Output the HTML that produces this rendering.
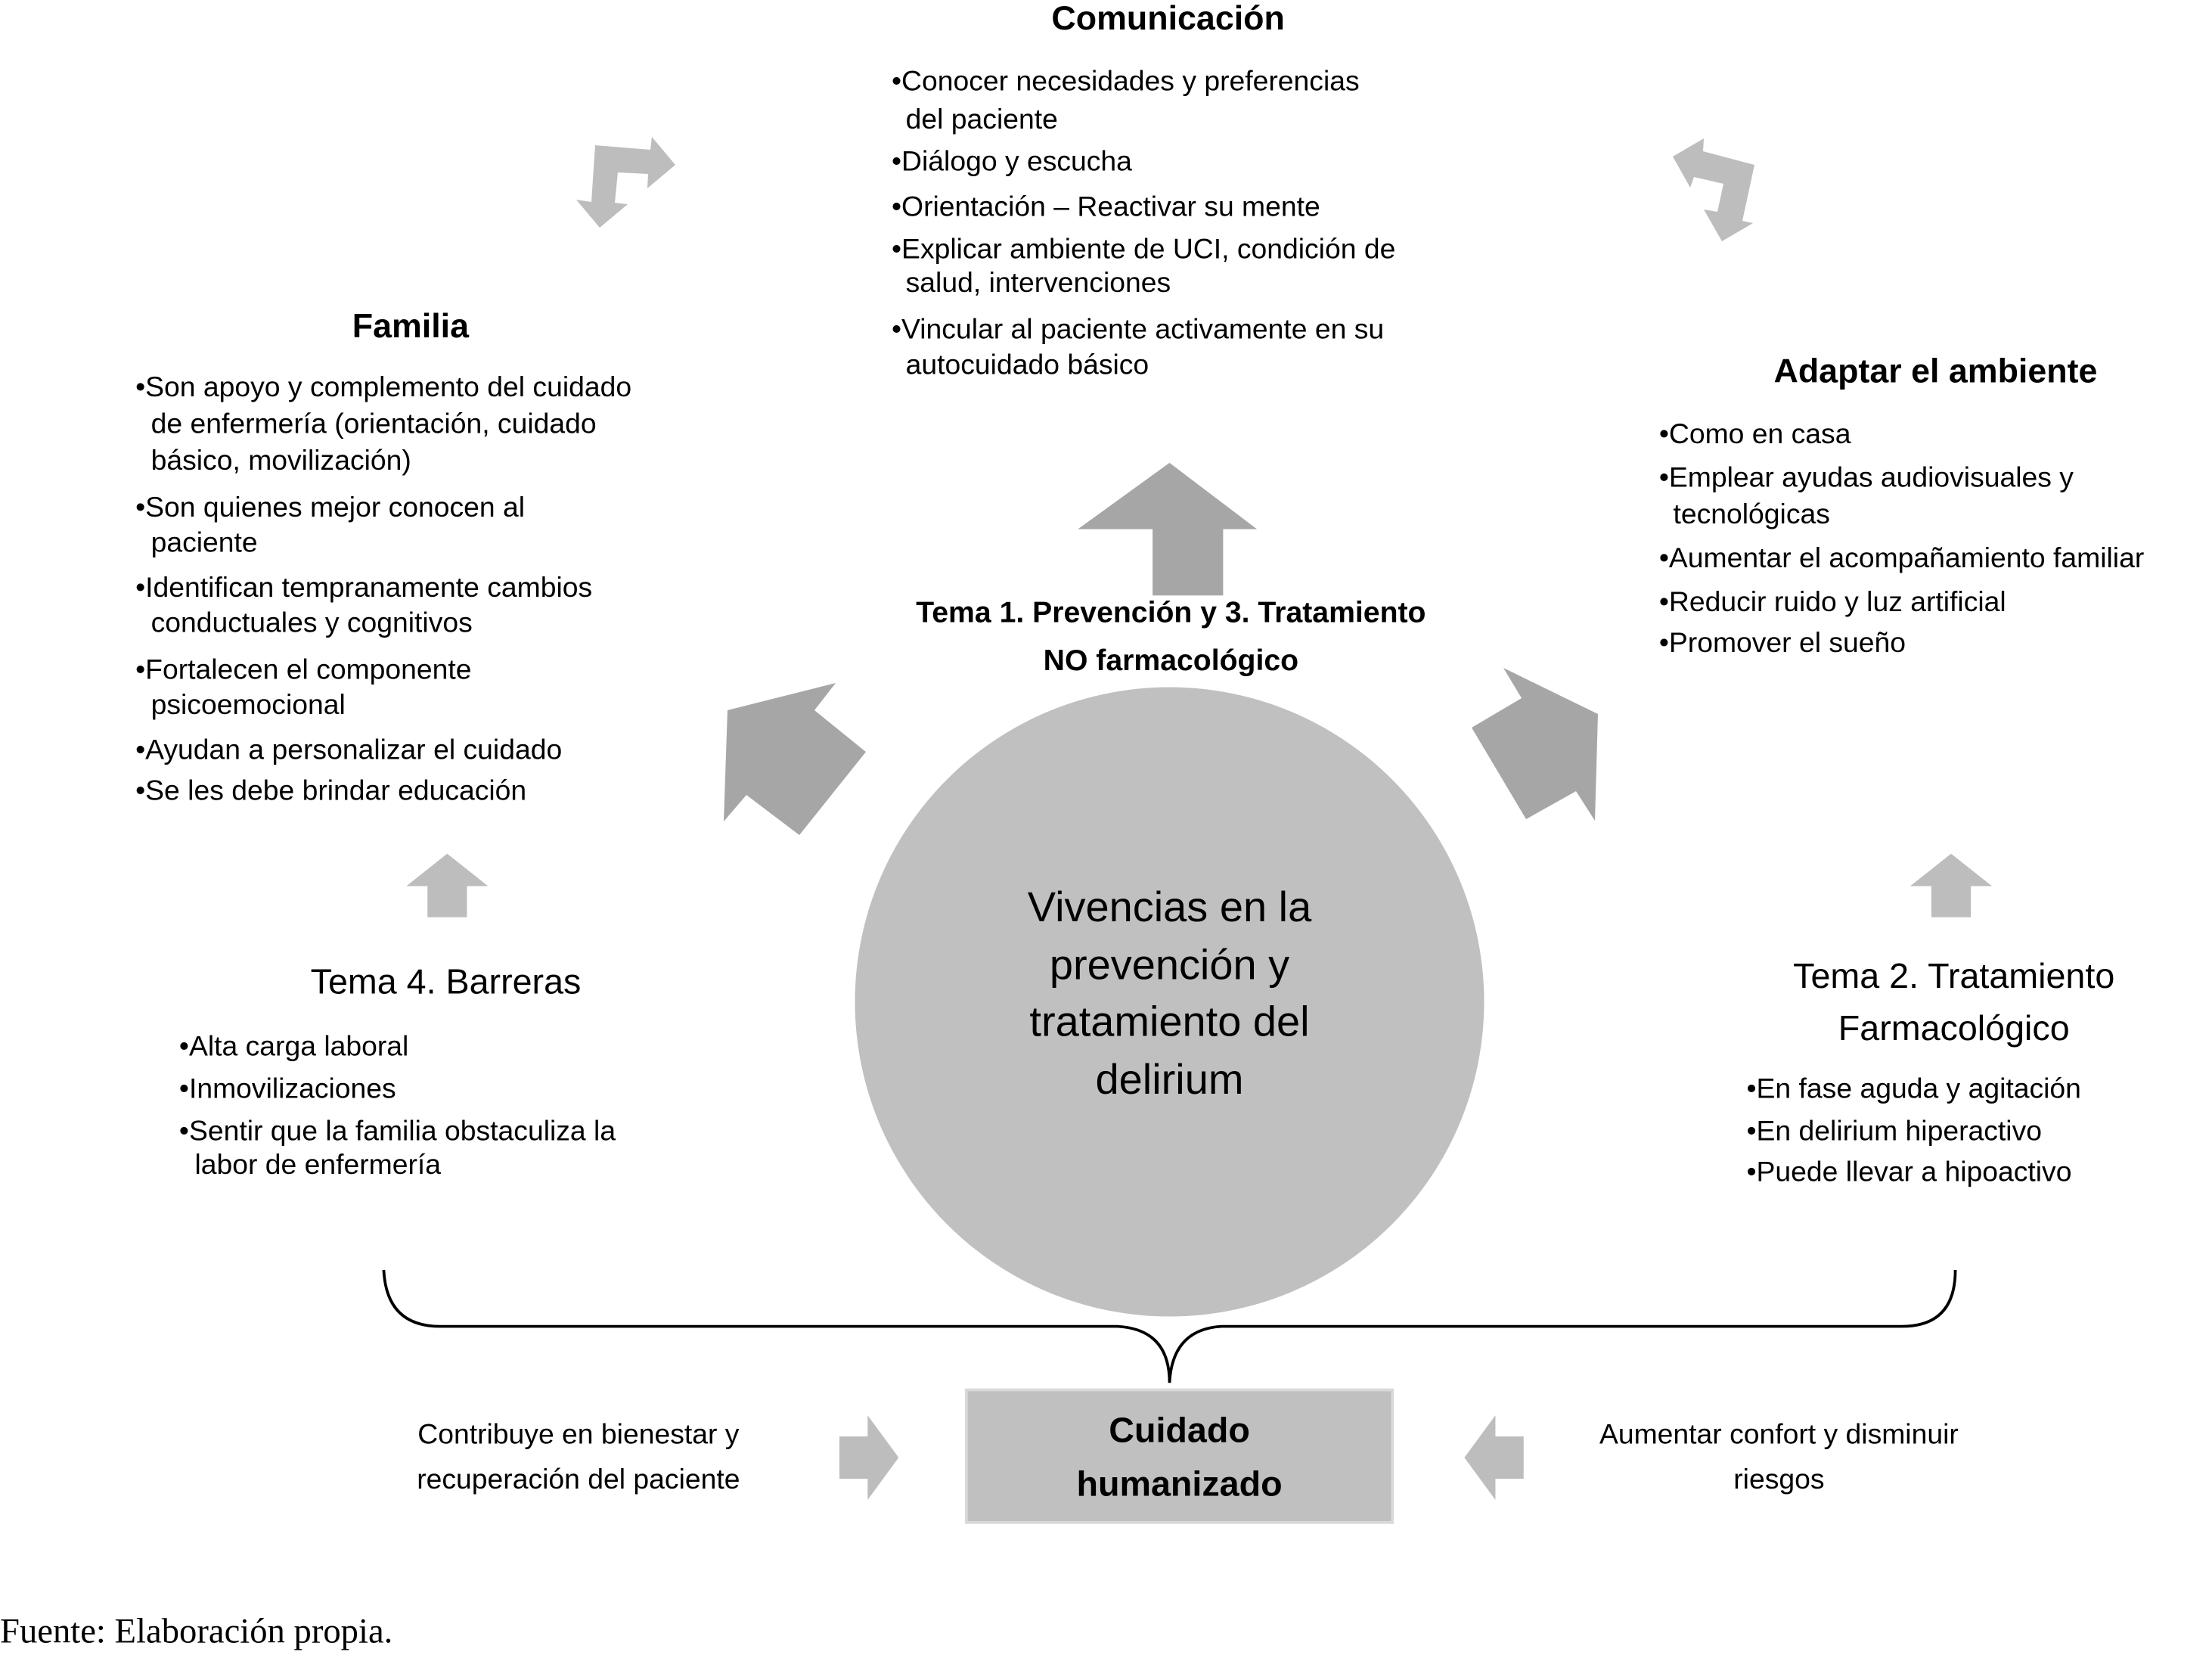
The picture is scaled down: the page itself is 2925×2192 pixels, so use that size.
<!DOCTYPE html>
<html><head><meta charset="utf-8"><style>
html,body{margin:0;padding:0;background:#fff;}
#wrap{position:relative;width:2925px;height:2192px;overflow:hidden;}
#s{position:absolute;left:0;top:0;width:1568px;height:1175px;transform:scale(1.8655);transform-origin:0 0;font-family:"Liberation Sans",sans-serif;color:#000;}
.l{position:absolute;white-space:nowrap;font-size:20px;line-height:30px;}
.c{transform:translateX(-50%);text-align:center;}
.b{font-weight:bold;font-size:24px;}
</style></head><body><div id="wrap">
<svg width="2925" height="2192" viewBox="0 0 2925 2192" style="position:absolute;left:0;top:0">
<polygon fill="#bdbdbd" points="787,192 860,198 862,181 893,218 856,249 857,230 817,228 813,268 830,270 793,301 762,264 782,267"/>
<polygon fill="#bdbdbd" points="2212,207 2253,183 2252,200 2320,218 2304,292 2318,295 2277,319 2253,277 2271,280 2279,243 2240,234 2235,248"/>
<polygon fill="#a6a6a6" points="962,939 1105,903 1077,939 1145,994 1057,1104 987,1051 957,1086"/>
<polygon fill="#a6a6a6" points="1988,883 2113,944 2109,1085 2084,1046 2018,1083 1946,962 2012,923"/>
<g transform="scale(1.8655)">
<circle cx="829" cy="710" r="223" fill="#c0c0c0"/>
<polygon fill="#a6a6a6" points="829,328 891,375 867,375 867,422 817,422 817,375 764,375"/>
<polygon fill="#bdbdbd" points="317,605 346,628 331,628 331,650 303,650 303,628 288,628"/>
<polygon fill="#bdbdbd" points="1383,605 1412,628 1397,628 1397,650 1369,650 1369,628 1354,628"/>
<polygon fill="#bdbdbd" points="595,1018 615,1018 615,1003 637,1033 615,1063 615,1048 595,1048"/>
<polygon fill="#bdbdbd" points="1080,1018 1060,1018 1060,1003 1038,1033 1060,1063 1060,1048 1080,1048"/>
<path d="M272,900 Q274,940 312,940 L792,940 Q829,942 829,980 Q831,942 866,940 L1348,940 Q1386,940 1386,900" fill="none" stroke="#000" stroke-width="2"/>
<rect x="685" y="985" width="302" height="94" fill="#c0c0c0" stroke="#d9d9d9" stroke-width="2"/>
</g></svg>
<div id="s">
<div class="l c b" style="left:828px;top:-1px">Comunicación</div>
<div class="l" style="left:632px;top:43px">•Conocer necesidades y preferencias</div>
<div class="l" style="left:642px;top:70px">del paciente</div>
<div class="l" style="left:632px;top:100px">•Diálogo y escucha</div>
<div class="l" style="left:632px;top:132px">•Orientación – Reactivar su mente</div>
<div class="l" style="left:632px;top:162px">•Explicar ambiente de UCI, condición de</div>
<div class="l" style="left:642px;top:186px">salud, intervenciones</div>
<div class="l" style="left:632px;top:219px">•Vincular al paciente activamente en su</div>
<div class="l" style="left:642px;top:244px">autocuidado básico</div>

<div class="l c b" style="left:291px;top:217px">Familia</div>
<div class="l" style="left:96px;top:260px">•Son apoyo y complemento del cuidado</div>
<div class="l" style="left:107px;top:286px">de enfermería (orientación, cuidado</div>
<div class="l" style="left:107px;top:312px">básico, movilización)</div>
<div class="l" style="left:96px;top:345px">•Son quienes mejor conocen al</div>
<div class="l" style="left:107px;top:370px">paciente</div>
<div class="l" style="left:96px;top:402px">•Identifican tempranamente cambios</div>
<div class="l" style="left:107px;top:427px">conductuales y cognitivos</div>
<div class="l" style="left:96px;top:460px">•Fortalecen el componente</div>
<div class="l" style="left:107px;top:485px">psicoemocional</div>
<div class="l" style="left:96px;top:517px">•Ayudan a personalizar el cuidado</div>
<div class="l" style="left:96px;top:546px">•Se les debe brindar educación</div>

<div class="l c b" style="left:1372px;top:249px">Adaptar el ambiente</div>
<div class="l" style="left:1176px;top:293px">•Como en casa</div>
<div class="l" style="left:1176px;top:324px">•Emplear ayudas audiovisuales y</div>
<div class="l" style="left:1186px;top:350px">tecnológicas</div>
<div class="l" style="left:1176px;top:381px">•Aumentar el acompañamiento familiar</div>
<div class="l" style="left:1176px;top:412px">•Reducir ruido y luz artificial</div>
<div class="l" style="left:1176px;top:441px">•Promover el sueño</div>

<div class="l c b" style="left:830px;top:420px;font-size:21px">Tema 1. Prevención y 3. Tratamiento</div>
<div class="l c b" style="left:830px;top:454px;font-size:21px">NO farmacológico</div>

<div class="l c" style="left:829px;top:624px;font-size:30px;line-height:40px">Vivencias en la</div>
<div class="l c" style="left:829px;top:665px;font-size:30px;line-height:40px">prevención y</div>
<div class="l c" style="left:829px;top:705px;font-size:30px;line-height:40px">tratamiento del</div>
<div class="l c" style="left:829px;top:746px;font-size:30px;line-height:40px">delirium</div>

<div class="l c" style="left:316px;top:679px;font-size:25px;line-height:34px">Tema 4. Barreras</div>
<div class="l" style="left:127px;top:727px">•Alta carga laboral</div>
<div class="l" style="left:127px;top:757px">•Inmovilizaciones</div>
<div class="l" style="left:127px;top:787px">•Sentir que la familia obstaculiza la</div>
<div class="l" style="left:138px;top:811px">labor de enfermería</div>

<div class="l c" style="left:1385px;top:675px;font-size:25px;line-height:34px">Tema 2. Tratamiento</div>
<div class="l c" style="left:1385px;top:712px;font-size:25px;line-height:34px">Farmacológico</div>
<div class="l" style="left:1238px;top:757px">•En fase aguda y agitación</div>
<div class="l" style="left:1238px;top:787px">•En delirium hiperactivo</div>
<div class="l" style="left:1238px;top:816px">•Puede llevar a hipoactivo</div>

<div class="l c b" style="left:836px;top:997px;font-size:25px;line-height:34px">Cuidado</div>
<div class="l c b" style="left:836px;top:1035px;font-size:25px;line-height:34px">humanizado</div>

<div class="l c" style="left:410px;top:1002px">Contribuye en bienestar y</div>
<div class="l c" style="left:410px;top:1034px">recuperación del paciente</div>
<div class="l c" style="left:1261px;top:1002px">Aumentar confort y disminuir</div>
<div class="l c" style="left:1261px;top:1034px">riesgos</div>

<div class="l" style="left:0px;top:1141px;font-family:'Liberation Serif',serif;font-size:25px;line-height:32px">Fuente: Elaboración propia.</div>
</div></div></body></html>
